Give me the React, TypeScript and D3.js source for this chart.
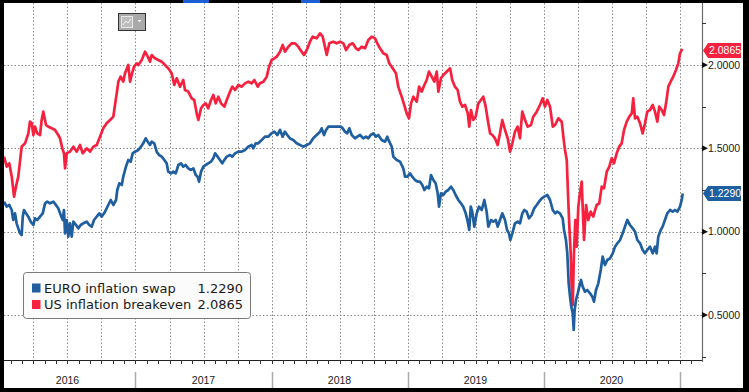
import React from "react";
import * as d3 from "d3";

// ---- Data (decimal-year time, value) ----
const usDates = [
  2016.033, 2016.053, 2016.072, 2016.09, 2016.107, 2016.121, 2016.138, 2016.163, 2016.188, 2016.212,
  2016.224, 2016.237, 2016.249, 2016.261, 2016.278, 2016.298, 2016.31, 2016.322, 2016.342, 2016.359,
  2016.384, 2016.408, 2016.432, 2016.445, 2016.462, 2016.474, 2016.482, 2016.494, 2016.518, 2016.543,
  2016.568, 2016.592, 2016.612, 2016.641, 2016.665, 2016.69, 2016.715, 2016.739, 2016.763, 2016.788,
  2016.813, 2016.837, 2016.849, 2016.862, 2016.874, 2016.891, 2016.91, 2016.923, 2016.947, 2016.96,
  2016.972, 2016.989, 2017.009, 2017.021, 2017.046, 2017.07, 2017.09, 2017.107, 2017.119, 2017.143,
  2017.168, 2017.193, 2017.217, 2017.241, 2017.266, 2017.285, 2017.303, 2017.327, 2017.351, 2017.364,
  2017.388, 2017.413, 2017.432, 2017.45, 2017.462, 2017.482, 2017.499, 2017.516, 2017.535, 2017.555,
  2017.572, 2017.59, 2017.609, 2017.629, 2017.653, 2017.671, 2017.695, 2017.712, 2017.732, 2017.756,
  2017.781, 2017.805, 2017.829, 2017.854, 2017.874, 2017.899, 2017.915, 2017.94, 2017.965, 2017.982,
  2018.001, 2018.021, 2018.038, 2018.063, 2018.082, 2018.099, 2018.124, 2018.149, 2018.173, 2018.197,
  2018.222, 2018.239, 2018.259, 2018.283, 2018.303, 2018.332, 2018.357, 2018.376, 2018.393, 2018.406,
  2018.425, 2018.454, 2018.479, 2018.504, 2018.528, 2018.548, 2018.572, 2018.597, 2018.621, 2018.638,
  2018.663, 2018.688, 2018.712, 2018.737, 2018.761, 2018.778, 2018.798, 2018.822, 2018.847, 2018.866,
  2018.891, 2018.915, 2018.932, 2018.957, 2018.976, 2018.994, 2019.011, 2019.026, 2019.043, 2019.068,
  2019.085, 2019.104, 2019.124, 2019.141, 2019.158, 2019.178, 2019.197, 2019.215, 2019.227, 2019.246,
  2019.263, 2019.288, 2019.313, 2019.329, 2019.349, 2019.369, 2019.386, 2019.403, 2019.423, 2019.443,
  2019.454, 2019.467, 2019.484, 2019.501, 2019.521, 2019.54, 2019.557, 2019.575, 2019.59, 2019.607,
  2019.624, 2019.643, 2019.663, 2019.68, 2019.697, 2019.717, 2019.737, 2019.754, 2019.771, 2019.79,
  2019.81, 2019.827, 2019.844, 2019.864, 2019.884, 2019.908, 2019.925, 2019.95, 2019.974, 2019.994,
  2020.011, 2020.028, 2020.048, 2020.068, 2020.085, 2020.109, 2020.134, 2020.146, 2020.158, 2020.171,
  2020.182, 2020.19, 2020.2, 2020.207, 2020.215, 2020.224, 2020.234, 2020.244, 2020.256, 2020.268,
  2020.281, 2020.288, 2020.298, 2020.313, 2020.329, 2020.347, 2020.366, 2020.391, 2020.41, 2020.428,
  2020.445, 2020.465, 2020.484, 2020.501, 2020.518, 2020.538, 2020.557, 2020.575, 2020.592, 2020.612,
  2020.631, 2020.649, 2020.66, 2020.673, 2020.69, 2020.71, 2020.729, 2020.746, 2020.763, 2020.783,
  2020.803, 2020.82, 2020.837, 2020.851, 2020.869, 2020.886, 2020.901, 2020.918, 2020.935, 2020.954,
  2020.974, 2020.991, 2021.004, 2021.016, 2021.024,
];
const usValues = [
  1.45, 1.39, 1.41, 1.33, 1.21, 1.27, 1.33, 1.51, 1.53, 1.59,
  1.66, 1.65, 1.58, 1.63, 1.59, 1.58, 1.67, 1.72, 1.64, 1.63,
  1.62, 1.61, 1.58, 1.56, 1.5, 1.47, 1.38, 1.47, 1.48, 1.51,
  1.48, 1.52, 1.47, 1.5, 1.48, 1.51, 1.52, 1.57, 1.62, 1.65,
  1.67, 1.69, 1.76, 1.83, 1.9, 1.93, 1.9, 1.95, 2.0, 1.9,
  1.94, 1.99, 2.01, 2.0, 2.03, 2.08, 2.05, 2.02, 2.06, 2.04,
  2.03, 2.02, 2.0, 1.98, 1.95, 1.88, 1.92, 1.87, 1.91, 1.85,
  1.84, 1.8, 1.79, 1.71, 1.67, 1.74, 1.76, 1.77, 1.74, 1.79,
  1.82, 1.77, 1.81, 1.77, 1.75, 1.79, 1.84, 1.87, 1.85, 1.88,
  1.87, 1.89, 1.9, 1.89, 1.91, 1.87, 1.89, 1.9, 1.93, 1.99,
  2.03, 2.04, 2.05, 2.08, 2.12, 2.08, 2.11, 2.13, 2.13, 2.11,
  2.08, 2.06, 2.09, 2.14, 2.17, 2.16, 2.19, 2.17, 2.11, 2.06,
  2.13, 2.14, 2.13, 2.14, 2.13, 2.09, 2.12, 2.13, 2.1, 2.09,
  2.11, 2.1, 2.15, 2.17, 2.16, 2.13, 2.1, 2.07, 2.06, 2.01,
  1.98, 1.95, 1.87, 1.81, 1.76, 1.71, 1.68, 1.77, 1.81, 1.78,
  1.87, 1.84, 1.88, 1.91, 1.96, 1.93, 1.9, 1.96, 1.84, 1.92,
  1.94, 1.96, 1.98, 1.91, 1.87, 1.85, 1.78, 1.75, 1.76, 1.71,
  1.63, 1.73, 1.67, 1.69, 1.77, 1.79, 1.81, 1.75, 1.67, 1.59,
  1.58, 1.56, 1.52, 1.59, 1.67, 1.61, 1.56, 1.48, 1.53, 1.6,
  1.63, 1.56, 1.72, 1.67, 1.63, 1.64, 1.69, 1.72, 1.76, 1.8,
  1.75, 1.79, 1.75, 1.63, 1.64, 1.68, 1.66, 1.57, 1.49, 1.43,
  1.19, 1.03, 0.87, 0.67, 0.56, 0.87, 1.07, 0.91, 1.15, 1.23,
  1.3, 1.15, 0.95, 1.16, 1.07, 1.12, 1.09, 1.16, 1.17, 1.27,
  1.26, 1.36, 1.39, 1.44, 1.41, 1.47, 1.51, 1.53, 1.61, 1.66,
  1.69, 1.71, 1.8, 1.68, 1.69, 1.65, 1.59, 1.65, 1.72, 1.73,
  1.76, 1.72, 1.66, 1.75, 1.73, 1.7, 1.77, 1.87, 1.9, 1.93,
  1.97, 2.01, 2.07, 2.09, 2.0865,
];

const euroDates = [
  2016.033, 2016.053, 2016.072, 2016.09, 2016.101, 2016.114, 2016.126, 2016.138, 2016.151, 2016.163,
  2016.171, 2016.18, 2016.195, 2016.212, 2016.229, 2016.249, 2016.261, 2016.278, 2016.298, 2016.318,
  2016.335, 2016.351, 2016.371, 2016.396, 2016.415, 2016.432, 2016.45, 2016.465, 2016.474, 2016.482,
  2016.494, 2016.506, 2016.518, 2016.531, 2016.543, 2016.563, 2016.579, 2016.597, 2016.616, 2016.641,
  2016.66, 2016.678, 2016.695, 2016.715, 2016.734, 2016.751, 2016.776, 2016.8, 2016.818, 2016.837,
  2016.857, 2016.866, 2016.881, 2016.899, 2016.91, 2016.93, 2016.947, 2016.965, 2016.979, 2016.996,
  2017.021, 2017.04, 2017.057, 2017.075, 2017.09, 2017.107, 2017.119, 2017.138, 2017.156, 2017.173,
  2017.193, 2017.212, 2017.229, 2017.241, 2017.261, 2017.278, 2017.296, 2017.315, 2017.335, 2017.351,
  2017.369, 2017.388, 2017.408, 2017.425, 2017.443, 2017.457, 2017.467, 2017.482, 2017.499, 2017.516,
  2017.535, 2017.555, 2017.572, 2017.585, 2017.604, 2017.621, 2017.638, 2017.653, 2017.671, 2017.695,
  2017.712, 2017.732, 2017.756, 2017.781, 2017.805, 2017.829, 2017.854, 2017.866, 2017.884, 2017.903,
  2017.928, 2017.952, 2017.976, 2018.001, 2018.021, 2018.043, 2018.063, 2018.082, 2018.099, 2018.116,
  2018.136, 2018.16, 2018.185, 2018.21, 2018.234, 2018.259, 2018.283, 2018.307, 2018.332, 2018.357,
  2018.369, 2018.386, 2018.401, 2018.418, 2018.443, 2018.467, 2018.491, 2018.509, 2018.524, 2018.54,
  2018.557, 2018.572, 2018.59, 2018.614, 2018.631, 2018.651, 2018.675, 2018.695, 2018.712, 2018.729,
  2018.749, 2018.768, 2018.785, 2018.81, 2018.835, 2018.851, 2018.866, 2018.884, 2018.896, 2018.921,
  2018.945, 2018.969, 2018.982, 2019.0, 2019.018, 2019.035, 2019.055, 2019.075, 2019.092, 2019.109,
  2019.124, 2019.141, 2019.158, 2019.173, 2019.19, 2019.207, 2019.222, 2019.232, 2019.246, 2019.263,
  2019.281, 2019.3, 2019.32, 2019.337, 2019.354, 2019.374, 2019.393, 2019.41, 2019.428, 2019.443,
  2019.454, 2019.465, 2019.476, 2019.491, 2019.509, 2019.526, 2019.546, 2019.565, 2019.582, 2019.594,
  2019.614, 2019.631, 2019.649, 2019.663, 2019.68, 2019.697, 2019.717, 2019.732, 2019.746, 2019.756,
  2019.771, 2019.79, 2019.81, 2019.827, 2019.844, 2019.859, 2019.876, 2019.893, 2019.913, 2019.932,
  2019.95, 2019.967, 2019.987, 2020.006, 2020.028, 2020.048, 2020.068, 2020.085, 2020.101, 2020.121,
  2020.141, 2020.151, 2020.165, 2020.175, 2020.185, 2020.195, 2020.204, 2020.215, 2020.222, 2020.229,
  2020.239, 2020.252, 2020.263, 2020.276, 2020.288, 2020.305, 2020.322, 2020.342, 2020.359, 2020.371,
  2020.386, 2020.403, 2020.421, 2020.435, 2020.452, 2020.469, 2020.489, 2020.509, 2020.526, 2020.543,
  2020.563, 2020.582, 2020.599, 2020.616, 2020.636, 2020.656, 2020.673, 2020.69, 2020.71, 2020.729,
  2020.746, 2020.763, 2020.783, 2020.803, 2020.82, 2020.832, 2020.844, 2020.862, 2020.876, 2020.893,
  2020.91, 2020.93, 2020.95, 2020.967, 2020.984, 2021.004, 2021.016, 2021.024,
];
const euroValues = [
  1.18, 1.15, 1.16, 1.13, 1.07, 1.11, 1.05, 1.02, 0.99, 0.98,
  1.09, 1.13, 1.11, 1.09, 1.06, 1.04, 1.08, 1.07, 1.09, 1.11,
  1.17, 1.18, 1.17, 1.18, 1.16, 1.14, 1.1, 1.07, 1.13, 0.99,
  1.07, 0.97, 1.05, 0.97, 1.06, 1.04, 1.02, 1.04, 1.05, 1.06,
  1.04, 1.03, 1.07, 1.09, 1.11, 1.09, 1.12, 1.16, 1.19, 1.16,
  1.19, 1.25, 1.29, 1.28, 1.33, 1.39, 1.43, 1.42, 1.47, 1.48,
  1.49, 1.51, 1.53, 1.56, 1.54, 1.52, 1.54, 1.53, 1.48, 1.46,
  1.45, 1.43, 1.41, 1.36, 1.35, 1.36, 1.35, 1.4, 1.41, 1.39,
  1.4, 1.38, 1.37, 1.38, 1.34, 1.33, 1.3, 1.36, 1.39, 1.4,
  1.41, 1.42, 1.44, 1.47, 1.45, 1.43, 1.41, 1.43, 1.45, 1.46,
  1.45, 1.47, 1.48, 1.48, 1.49, 1.51, 1.52, 1.5, 1.53, 1.53,
  1.55, 1.57, 1.57, 1.59, 1.6, 1.58, 1.61, 1.57, 1.6, 1.58,
  1.56, 1.55, 1.53, 1.52, 1.51, 1.52, 1.53, 1.56, 1.58, 1.6,
  1.62, 1.58, 1.61, 1.63, 1.63, 1.63, 1.63, 1.63, 1.62, 1.6,
  1.59, 1.62, 1.58, 1.56, 1.57, 1.58, 1.56, 1.57, 1.56, 1.58,
  1.59, 1.57, 1.58, 1.55, 1.54, 1.57, 1.54, 1.51, 1.45, 1.43,
  1.42, 1.38, 1.33, 1.33, 1.35, 1.33, 1.31, 1.3, 1.3, 1.28,
  1.25, 1.27, 1.26, 1.34, 1.31, 1.29, 1.23, 1.15, 1.23, 1.22,
  1.24, 1.25, 1.27, 1.25, 1.22, 1.19, 1.17, 1.15, 1.11, 1.06,
  1.01, 1.15, 1.12, 1.03, 1.11, 1.15, 1.13, 1.19, 1.12, 1.03,
  1.07, 1.06, 1.07, 1.03, 1.07, 1.11, 1.07, 1.01, 0.99, 0.95,
  0.99, 1.05, 1.06, 1.05, 1.11, 1.13, 1.12, 1.08, 1.1, 1.14,
  1.16, 1.18, 1.2, 1.21, 1.22, 1.19, 1.13, 1.11, 1.12, 1.11,
  1.08, 1.01, 0.95, 0.87, 0.69, 0.61, 0.55, 0.51, 0.41, 0.53,
  0.59, 0.63, 0.67, 0.71, 0.67, 0.64, 0.65, 0.63, 0.61, 0.58,
  0.65, 0.69, 0.77, 0.85, 0.8, 0.83, 0.84, 0.87, 0.91, 0.93,
  0.95, 0.99, 1.03, 1.07, 1.04, 1.02, 1.0, 0.95, 0.93, 0.89,
  0.87, 0.89, 0.91, 0.87, 0.91, 0.87, 0.97, 1.01, 1.03, 1.07,
  1.11, 1.13, 1.12, 1.13, 1.12, 1.15, 1.19, 1.229,
];

const yTicks = [0.5, 1.0, 1.5, 2.0];
const yMinorTicks = [0.25, 0.75, 1.25, 1.75, 2.25];
const yearLabels = ["2016", "2017", "2018", "2019", "2020"];
const legendNames = ["EURO inflation swap", "US inflation breakeven"];
const legendValues = ["1.2290", "2.0865"];
const seriesColors = ["#1f5fa0", "#f5213f"];

const W = 749;
const H = 392;
const PL = 4;
const PR = 702;
const PT = 3;
const PB = 360;

export default function App() {
  const x = d3.scaleLinear().domain([2016 + 4.5 / 136, 2016 + 702.5 / 136]).range([PL, PR]);
  const y = d3.scaleLinear().domain([0.5, 2.0]).range([315, 65]);

  const line = d3
    .line<[number, number]>()
    .x((d) => x(d[0]))
    .y((d) => y(d[1]))
    .curve(d3.curveLinear);

  const usPts: [number, number][] = usDates.map((t, i) => [t, usValues[i]]);
  const euPts: [number, number][] = euroDates.map((t, i) => [t, euroValues[i]]);

  const quarterTicks: number[] = [];
  for (let k = 1; k <= 20; k++) quarterTicks.push(2016 + k * 0.25);
  const monthTicks: number[] = [];
  for (let k = 1; k <= 61; k++) monthTicks.push(2016 + k / 12);
  const yearStarts = [2017, 2018, 2019, 2020, 2021];

  const font = "'Liberation Sans', Arial, sans-serif";
  const lfont = "'DejaVu Sans', Verdana, sans-serif";

  const tag = (val: number, text: string, color: string) => {
    const cy = y(val);
    const p = `M${PR + 1},${cy} L${PR + 6},${cy - 7.5} L741,${cy - 7.5} L741,${cy + 7.5} L${PR + 6},${cy + 7.5} Z`;
    return (
      <g key={text}>
        <path d={p} fill={color} />
        <text x={709} y={cy + 3.8} fill="#fff" fontFamily={font} fontSize={10.5}>
          {text}
        </text>
      </g>
    );
  };

  return (
    <svg width={W} height={H} style={{ position: "absolute", left: 0, top: 0, display: "block" }}>
      <rect x={0} y={0} width={W} height={H} fill="#000" />
      <rect x={PL} y={PT} width={743 - PL} height={388 - PT} fill="#fff" />
      <rect x={183} y={0} width={26} height={3} fill="#1b5fd6" />
      <rect x={301} y={0} width={19} height={3} fill="#1b5fd6" />

      {/* vertical grid */}
      {quarterTicks.map((t) => (
        <line
          key={"vg" + t}
          x1={Math.round(x(t)) + 0.5}
          x2={Math.round(x(t)) + 0.5}
          y1={PT}
          y2={PB}
          stroke="#8a8a8a"
          strokeWidth={1}
          strokeDasharray="1.5,2"
        />
      ))}
      {/* horizontal grid */}
      {yTicks.map((v) => (
        <line
          key={"hg" + v}
          x1={PL}
          x2={PR}
          y1={Math.round(y(v)) + 0.5}
          y2={Math.round(y(v)) + 0.5}
          stroke="#8a8a8a"
          strokeWidth={1}
          strokeDasharray="1.5,2"
        />
      ))}

      <defs>
        <clipPath id="plotclip">
          <rect x={PL} y={PT} width={PR - PL} height={PB - PT} />
        </clipPath>
      </defs>
      <g clipPath="url(#plotclip)">
        <path d={line(usPts) || ""} fill="none" stroke={seriesColors[1]} strokeWidth={2.7} strokeLinejoin="round" />
        <path d={line(euPts) || ""} fill="none" stroke={seriesColors[0]} strokeWidth={2.7} strokeLinejoin="round" />
      </g>

      {/* y axis */}
      <line x1={PR + 0.5} x2={PR + 0.5} y1={PT} y2={PB + 2} stroke="#6a6a6a" strokeWidth={1.2} />
      {yMinorTicks.map((v) => (
        <line key={"mt" + v} x1={PR} x2={PR + 4} y1={Math.round(y(v)) + 0.5} y2={Math.round(y(v)) + 0.5} stroke="#333" />
      ))}
      {yTicks.map((v) => (
        <g key={"yt" + v}>
          <path d={`M${PR},${y(v) - 3} L${PR + 6},${y(v)} L${PR},${y(v) + 3} Z`} fill="#111" />
          <text x={708} y={y(v) + 3.8} fill="#1a1a1a" fontFamily={font} fontSize={10.5}>
            {v.toFixed(4)}
          </text>
        </g>
      ))}

      {/* tags */}
      {tag(usValues[usValues.length - 1], legendValues[1], seriesColors[1])}
      {tag(euroValues[euroValues.length - 1], legendValues[0], seriesColors[0])}

      {/* x axis */}
      <line x1={PL} x2={PR} y1={PB + 0.5} y2={PB + 0.5} stroke="#222" strokeWidth={1} />
      {monthTicks.map((t) =>
        x(t) < PR - 1 ? (
          <line key={"xt" + t} x1={Math.round(x(t)) + 0.5} x2={Math.round(x(t)) + 0.5} y1={PB} y2={PB + 4} stroke="#333" />
        ) : null
      )}
      {yearStarts.map((t) => (
        <line key={"ys" + t} x1={Math.round(x(t)) + 0.5} x2={Math.round(x(t)) + 0.5} y1={372} y2={388} stroke="#aaa" strokeWidth={1.5} />
      ))}
      {yearLabels.map((lab, i) => (
        <text key={lab} x={x(2016.5 + i)} y={384} textAnchor="middle" fill="#1a1a1a" fontFamily={font} fontSize={10.5}>
          {lab}
        </text>
      ))}

      {/* legend */}
      <rect x={23.5} y={272.5} width={227} height={46} rx={3} fill="#fbfbfb" stroke="#7a7a7a" />
      {legendNames.map((n, i) => (
        <g key={n}>
          <rect x={32} y={283.5 + i * 16.5} width={8.5} height={9} fill={seriesColors[i]} />
          <text x={44} y={292.5 + i * 16.5} fill="#1a1a1a" fontFamily={lfont} fontSize={13}>
            {n}
          </text>
          <text x={243} y={292.5 + i * 16.5} textAnchor="end" fill="#1a1a1a" fontFamily={lfont} fontSize={13}>
            {legendValues[i]}
          </text>
        </g>
      ))}

      {/* chart-type button */}
      <rect x={118.5} y={13.5} width={27} height={17} fill="#a9a9a9" stroke="#333" strokeWidth={1} />
      <rect x={121.5} y={16.5} width={11} height={11} fill="#bdbdbd" stroke="#e8e8e8" strokeWidth={1} />
      <path d="M123,25 L126,21 L128,23 L131,19" fill="none" stroke="#f4f4f4" strokeWidth={1} />
      <path d="M137.5,20 L141.5,20 L139.5,22.5 Z" fill="#f4f4f4" />
    </svg>
  );
}
